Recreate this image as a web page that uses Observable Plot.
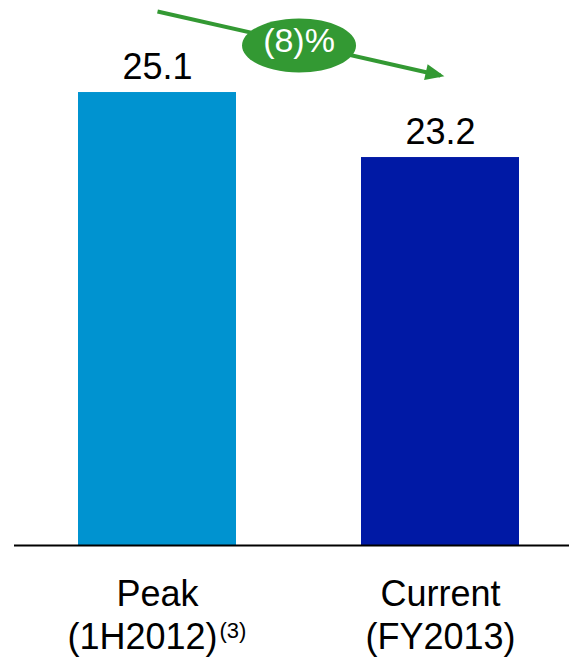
<!DOCTYPE html>
<html><head><meta charset="utf-8">
<script src="https://cdn.jsdelivr.net/npm/d3@7"></script>
<script src="https://cdn.jsdelivr.net/npm/@observablehq/plot@0.6"></script>
<style>html,body{margin:0;padding:0;background:#fff}</style>
</head><body><div id="chart"></div>
<script>
// ---- data ----
const categories = ["Peak", "Current"];
const periods = ["(1H2012)", "(FY2013)"];
const notes = ["(3)", ""];
const values = [25.1, 23.2];
const barColors = ["#0093D0", "#0019A5"];
const changeLabels = ["(8)%"];
const arrowValues = [27.47, 25.6];   // annotation arrow start / end, in value units
const axisDomain = [11.86, 27.79];

const green = "#339933";
const font = "'Liberation Sans', Arial, Helvetica, sans-serif";

const bars = categories.map((c, i) => ({cat: c, period: periods[i], note: notes[i], value: values[i], color: barColors[i]}));
const arrow = [{from: categories[0], to: categories[1], y1: arrowValues[0], y2: arrowValues[1]}];
const badge = [{cat: categories[0], y: (arrowValues[0] + arrowValues[1]) / 2, label: changeLabels[0]}];

const xRange = [78, 519], padIn = 0.442;
const halfStep = (xRange[1] - xRange[0]) / (2 - padIn) / 2;

const ellipse = {draw(ctx) {
  const rx = 57, ry = 27, k = 0.5523;
  ctx.moveTo(rx, 0);
  ctx.bezierCurveTo(rx, ry * k, rx * k, ry, 0, ry);
  ctx.bezierCurveTo(-rx * k, ry, -rx, ry * k, -rx, 0);
  ctx.bezierCurveTo(-rx, -ry * k, -rx * k, -ry, 0, -ry);
  ctx.bezierCurveTo(rx * k, -ry, rx, -ry * k, rx, 0);
  ctx.closePath();
}};
const head = {draw(ctx) {
  ctx.moveTo(4, 0);
  ctx.lineTo(-15, -8);
  ctx.lineTo(-15, 8);
  ctx.closePath();
}};

const chart = Plot.plot({
  width: 569, height: 660,
  marginTop: 0, marginBottom: 115, marginLeft: 14, marginRight: 0,
  style: {fontFamily: font, background: "#fff", color: "#000"},
  x: {domain: categories, range: xRange, paddingInner: padIn, paddingOuter: 0, axis: null},
  y: {domain: axisDomain, axis: null},
  marks: [
    Plot.barY(bars, {x: "cat", y1: () => axisDomain[0], y2: "value", fill: "color"}),
    Plot.ruleY([axisDomain[0]], {stroke: "#000", strokeWidth: 2}),
    Plot.text(bars, {x: "cat", y: "value", text: d => d.value.toFixed(1), lineAnchor: "bottom", dy: -14, fontSize: 36, fill: "#000"}),
    Plot.text(bars, {x: "cat", y: () => axisDomain[0], text: "cat", lineAnchor: "bottom", dy: 60, fontSize: 36, fill: "#000"}),
    Plot.text(bars.filter(d => d.note), {x: "cat", y: () => axisDomain[0], text: "period", lineAnchor: "bottom", dy: 103, dx: -15, fontSize: 36, fill: "#000"}),
    Plot.text(bars.filter(d => !d.note), {x: "cat", y: () => axisDomain[0], text: "period", lineAnchor: "bottom", dy: 103, fontSize: 36, fill: "#000"}),
    Plot.text(bars.filter(d => d.note), {x: "cat", y: () => axisDomain[0], text: "note", textAnchor: "start", lineAnchor: "bottom", dy: 92, dx: 62, fontSize: 22, fill: "#000"}),
    Plot.link(arrow, {x1: "from", x2: "to", y1: "y1", y2: "y2", stroke: green, strokeWidth: 4}),
    Plot.dot(arrow, {x: "to", y: "y2", symbol: head, rotate: 12.7, fill: green, stroke: "none"}),
    Plot.dot(badge, {x: "cat", y: "y", dx: halfStep, dy: 2, symbol: ellipse, fill: green, stroke: "none"}),
    Plot.text(badge, {x: "cat", y: "y", text: "label", dx: halfStep, dy: -2, fontSize: 34, fill: "#fff"})
  ]
});
document.getElementById("chart").appendChild(chart);
</script>
</body></html>
